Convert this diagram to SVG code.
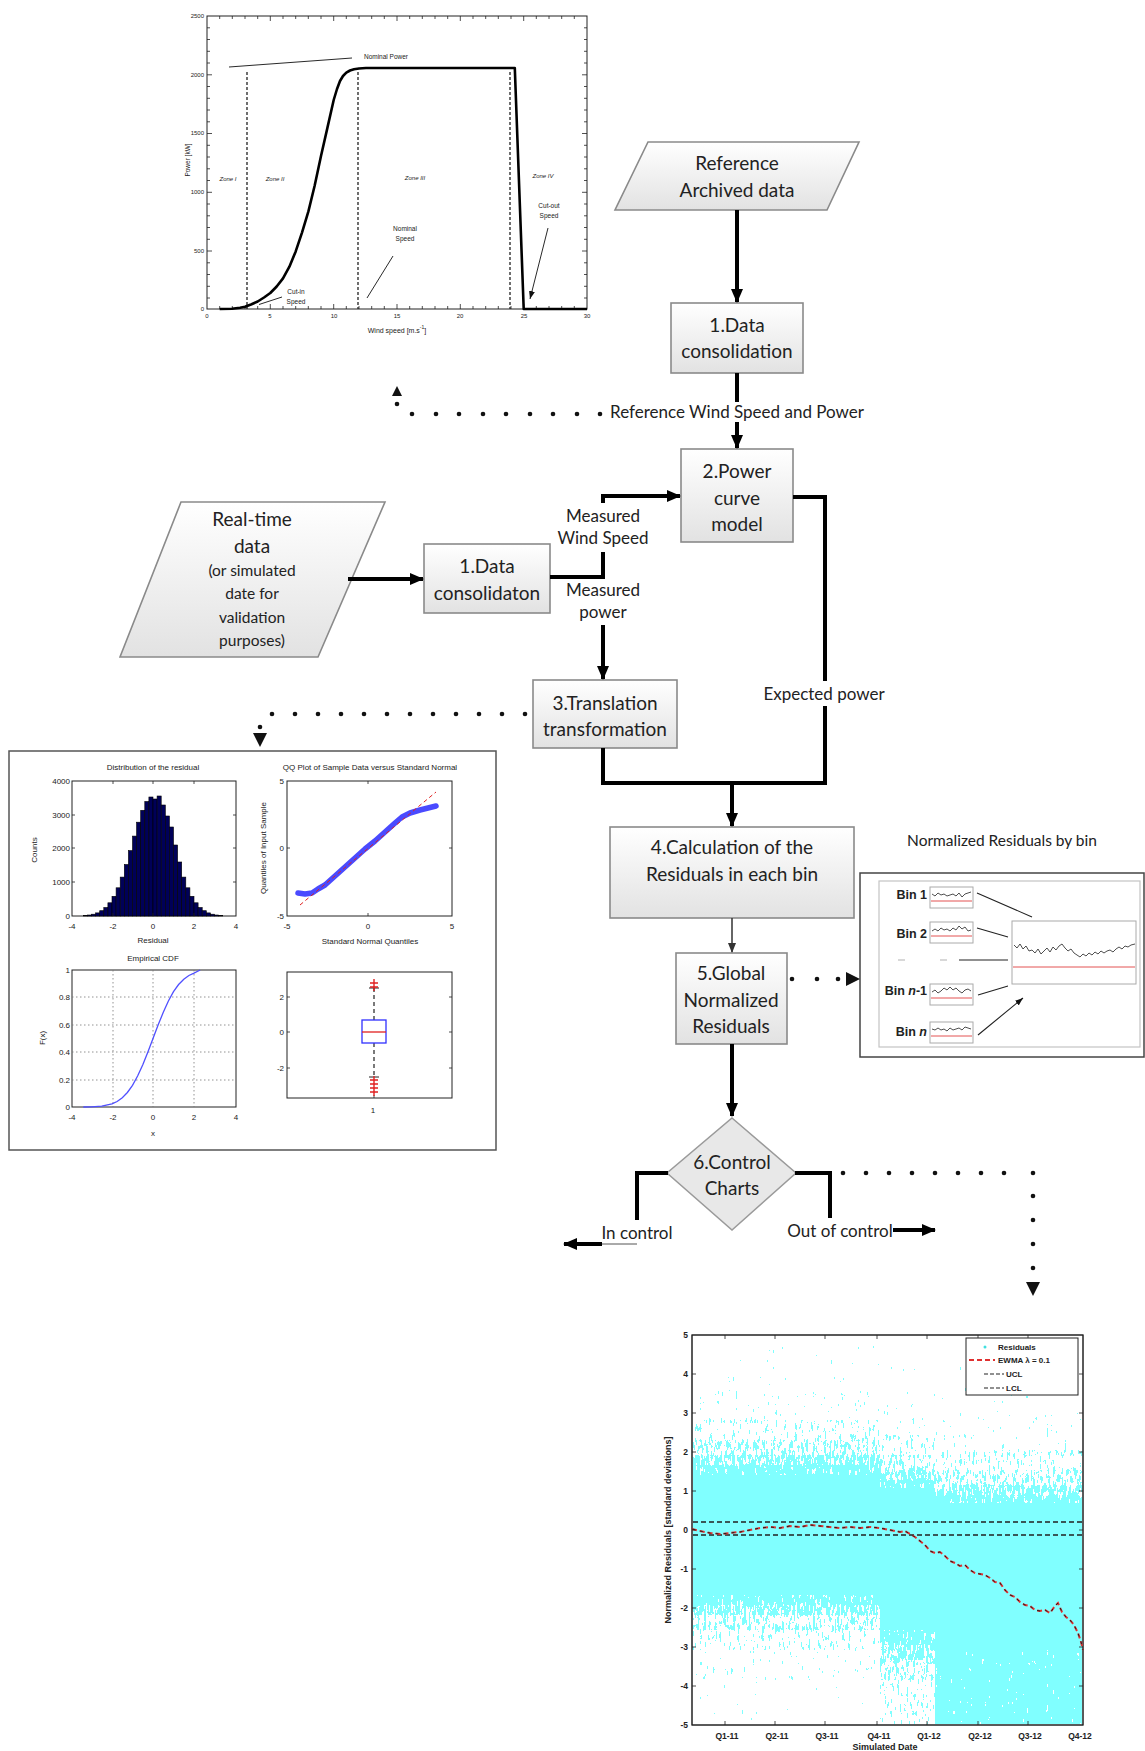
<svg xmlns="http://www.w3.org/2000/svg" width="1145" height="1751" viewBox="0 0 1145 1751">
<style>
.fc{font-family:Lato,"Liberation Sans",sans-serif;fill:#222;text-anchor:middle;dominant-baseline:central}
.f19{font-size:19px}.f17{font-size:17px}.f15{font-size:15.5px}
.box{fill:url(#gbox);stroke:#8a8a8a;stroke-width:1.6}
.sm{font-family:"Liberation Sans",Arial,sans-serif;fill:#222;dominant-baseline:central}
.ax{fill:#fff;stroke:#222;stroke-width:1}
.con{fill:none;stroke:#000;stroke-width:4}
.dot{fill:#111}
.grid{stroke:#777;stroke-width:0.8;stroke-dasharray:1.5 2.5;fill:none}
.tk{stroke:#222;stroke-width:0.8;fill:none}
.cy{fill:#80ffff}
</style>
<defs>
<linearGradient id="gbox" x1="0" y1="0" x2="0" y2="1"><stop offset="0" stop-color="#ffffff"/><stop offset="1" stop-color="#e2e2e2"/></linearGradient>
<marker id="ah" viewBox="0 0 14 12" refX="13" refY="6" markerWidth="14" markerHeight="12" markerUnits="userSpaceOnUse" orient="auto"><path d="M0,0 L14,6 L0,12 Z" fill="#000"/></marker>
<marker id="ahs" viewBox="0 0 10 8" refX="9" refY="4" markerWidth="10" markerHeight="8" markerUnits="userSpaceOnUse" orient="auto"><path d="M0,0 L10,4 L0,8 Z" fill="#333"/></marker>
<marker id="aht" viewBox="0 0 8 6" refX="8" refY="3" markerWidth="8" markerHeight="6" markerUnits="userSpaceOnUse" orient="auto"><path d="M0,0 L8,3 L0,6 Z" fill="#111"/></marker>
<filter id="sp7" x="0" y="0" width="1" height="1" color-interpolation-filters="sRGB"><feTurbulence type="fractalNoise" baseFrequency="0.45 0.12" numOctaves="3" seed="4"/><feColorMatrix type="matrix" values="0 0 0 0 0.5 0 0 0 0 1 0 0 0 0 1 1 0 0 0 0"/><feComponentTransfer><feFuncA type="discrete" tableValues="0 0 0 0 0 0 0 1 1 1 1 1 1 1 1 1 1 1 1 1"/></feComponentTransfer></filter>
<filter id="sp9" x="0" y="0" width="1" height="1" color-interpolation-filters="sRGB"><feTurbulence type="fractalNoise" baseFrequency="0.45 0.12" numOctaves="3" seed="4"/><feColorMatrix type="matrix" values="0 0 0 0 0.5 0 0 0 0 1 0 0 0 0 1 1 0 0 0 0"/><feComponentTransfer><feFuncA type="discrete" tableValues="0 0 0 0 0 0 0 0 0 1 1 1 1 1 1 1 1 1 1 1"/></feComponentTransfer></filter>
<filter id="sp11" x="0" y="0" width="1" height="1" color-interpolation-filters="sRGB"><feTurbulence type="fractalNoise" baseFrequency="0.45 0.12" numOctaves="3" seed="4"/><feColorMatrix type="matrix" values="0 0 0 0 0.5 0 0 0 0 1 0 0 0 0 1 1 0 0 0 0"/><feComponentTransfer><feFuncA type="discrete" tableValues="0 0 0 0 0 0 0 0 0 0 0 1 1 1 1 1 1 1 1 1"/></feComponentTransfer></filter>
<filter id="sp13" x="0" y="0" width="1" height="1" color-interpolation-filters="sRGB"><feTurbulence type="fractalNoise" baseFrequency="0.45 0.12" numOctaves="3" seed="4"/><feColorMatrix type="matrix" values="0 0 0 0 0.5 0 0 0 0 1 0 0 0 0 1 1 0 0 0 0"/><feComponentTransfer><feFuncA type="discrete" tableValues="0 0 0 0 0 0 0 0 0 0 0 0 0 1 1 1 1 1 1 1"/></feComponentTransfer></filter>
<filter id="sp15" x="0" y="0" width="1" height="1" color-interpolation-filters="sRGB"><feTurbulence type="fractalNoise" baseFrequency="0.45 0.12" numOctaves="3" seed="4"/><feColorMatrix type="matrix" values="0 0 0 0 0.5 0 0 0 0 1 0 0 0 0 1 1 0 0 0 0"/><feComponentTransfer><feFuncA type="discrete" tableValues="0 0 0 0 0 0 0 0 0 0 0 0 0 0 0 1 1 1 1 1"/></feComponentTransfer></filter>
<filter id="sp16" x="0" y="0" width="1" height="1" color-interpolation-filters="sRGB"><feTurbulence type="fractalNoise" baseFrequency="0.45 0.12" numOctaves="3" seed="4"/><feColorMatrix type="matrix" values="0 0 0 0 0.5 0 0 0 0 1 0 0 0 0 1 1 0 0 0 0"/><feComponentTransfer><feFuncA type="discrete" tableValues="0 0 0 0 0 0 0 0 0 0 0 0 0 0 0 0 1 1 1 1"/></feComponentTransfer></filter>
<filter id="spW" x="0" y="0" width="1" height="1" color-interpolation-filters="sRGB"><feTurbulence type="fractalNoise" baseFrequency="0.45 0.12" numOctaves="3" seed="21"/><feColorMatrix type="matrix" values="0 0 0 0 1 0 0 0 0 1 0 0 0 0 1 1 0 0 0 0"/><feComponentTransfer><feFuncA type="discrete" tableValues="0 0 0 0 0 0 0 0 0 0 0 0 0 0 0 1 1 1 1 1"/></feComponentTransfer></filter>
</defs>
<rect width="1145" height="1751" fill="#fff"/>

<!-- Power curve plot -->
<g id="power-curve-plot">
<rect class="ax" x="207" y="16" width="380" height="293"/>
<path class="tk" d="M219.7,16v3M232.3,16v3M245,16v3M257.7,16v3M270.3,16v5M283,16v3M295.7,16v3M308.3,16v3M321,16v3M333.7,16v5M346.3,16v3M359,16v3M371.7,16v3M384.3,16v3M397,16v5M409.7,16v3M422.3,16v3M435,16v3M447.7,16v3M460.3,16v5M473,16v3M485.7,16v3M498.3,16v3M511,16v3M523.7,16v5M536.3,16v3M549,16v3M561.7,16v3M574.3,16v3
M219.7,309v-3M232.3,309v-3M245,309v-3M257.7,309v-3M270.3,309v-5M283,309v-3M295.7,309v-3M308.3,309v-3M321,309v-3M333.7,309v-5M346.3,309v-3M359,309v-3M371.7,309v-3M384.3,309v-3M397,309v-5M409.7,309v-3M422.3,309v-3M435,309v-3M447.7,309v-3M460.3,309v-5M473,309v-3M485.7,309v-3M498.3,309v-3M511,309v-3M523.7,309v-5M536.3,309v-3M549,309v-3M561.7,309v-3M574.3,309v-3
M207,27.8h3M207,39.5h3M207,51.3h3M207,63h3M207,74.8h5M207,86.5h3M207,98.3h3M207,110h3M207,121.8h3M207,133.5h5M207,145.3h3M207,157h3M207,168.8h3M207,180.5h3M207,192.3h5M207,204h3M207,215.8h3M207,227.5h3M207,239.3h3M207,251h5M207,262.8h3M207,274.5h3M207,286.3h3M207,298h3
M587,27.8h-3M587,39.5h-3M587,51.3h-3M587,63h-3M587,74.8h-5M587,86.5h-3M587,98.3h-3M587,110h-3M587,121.8h-3M587,133.5h-5M587,145.3h-3M587,157h-3M587,168.8h-3M587,180.5h-3M587,192.3h-5M587,204h-3M587,215.8h-3M587,227.5h-3M587,239.3h-3M587,251h-5M587,262.8h-3M587,274.5h-3M587,286.3h-3M587,298h-3"/>
<g class="sm" font-size="6" text-anchor="end">
<text x="204" y="16">2500</text><text x="204" y="75">2000</text><text x="204" y="133">1500</text><text x="204" y="192">1000</text><text x="204" y="251">500</text><text x="204" y="309">0</text>
</g>
<g class="sm" font-size="6" text-anchor="middle">
<text x="207" y="316">0</text><text x="270" y="316">5</text><text x="334" y="316">10</text><text x="397" y="316">15</text><text x="460" y="316">20</text><text x="524" y="316">25</text><text x="587" y="316">30</text>
<text x="397" y="330" font-size="7">Wind speed [m.s<tspan baseline-shift="super" font-size="5">-1</tspan>]</text>
<text x="0" y="0" transform="translate(187,160) rotate(-90)" font-size="6.5">Power [kW]</text>
</g>
<path d="M247,72V309M358,72V309M510,72V309" stroke="#222" stroke-width="1.3" stroke-dasharray="3 2" fill="none"/>
<polyline fill="none" stroke="#000" stroke-width="2.6" stroke-linejoin="round" points="219.7,309 232,308.8 240,307.8 245,306.8 251,304.5 257.7,301.5 264,297.5 270.3,293 276.7,286.5 283,278.4 289.4,266.7 295.7,251.4 302,232.6 308.4,211.4 314.7,185.5 321,156.1 327.4,127.9 333.7,100 337,89 340,81 343,76 346.3,72.6 350,70.5 354,69.3 359,68.5 366,68 514.8,68 523.7,309 587,309"/>
<g class="sm" font-size="6.5" text-anchor="middle">
<text x="386" y="56">Nominal Power</text>
<text x="296" y="291">Cut-in</text><text x="296" y="301">Speed</text>
<text x="405" y="228">Nominal</text><text x="405" y="238">Speed</text>
<text x="549" y="205">Cut-out</text><text x="549" y="215">Speed</text>
</g>
<g class="sm" font-size="6" font-style="italic" text-anchor="middle">
<text x="228" y="179">Zone I</text><text x="275" y="179">Zone II</text><text x="415" y="178">Zone III</text><text x="543" y="176">Zone IV</text>
</g>
<path d="M352,58L229,67M282,297L259,304.5M393,256L367,298M548,228L530,299" stroke="#111" stroke-width="0.9" fill="none" marker-end="url(#aht)"/>
</g>

<!-- Flowchart nodes -->
<g id="ref-archived-data">
<polygon class="box" points="648,142 859,142 827,210 615,210"/>
<text class="fc f19" x="737" y="162">Reference</text>
<text class="fc f19" x="737" y="189">Archived data</text>
</g>
<g id="data-consolidation-1">
<rect class="box" x="671" y="303" width="132" height="70"/>
<text class="fc f19" x="737" y="324">1.Data</text>
<text class="fc f19" x="737" y="350">consolidation</text>
</g>
<g id="power-curve-model">
<rect class="box" x="681" y="449" width="112" height="93"/>
<text class="fc f19" x="737" y="470">2.Power</text>
<text class="fc f19" x="737" y="497">curve</text>
<text class="fc f19" x="737" y="523">model</text>
</g>
<g id="real-time-data">
<polygon class="box" points="181,502 385,502 318,657 120,657"/>
<text class="fc f19" x="252" y="518">Real-time</text>
<text class="fc f19" x="252" y="545">data</text>
<text class="fc f15" x="252" y="570">(or simulated</text>
<text class="fc f15" x="252" y="593">date for</text>
<text class="fc f15" x="252" y="617">validation</text>
<text class="fc f15" x="252" y="640">purposes)</text>
</g>
<g id="data-consolidation-2">
<rect class="box" x="424" y="544" width="126" height="69"/>
<text class="fc f19" x="487" y="565">1.Data</text>
<text class="fc f19" x="487" y="592">consolidaton</text>
</g>
<g id="translation-transformation">
<rect class="box" x="533" y="680" width="144" height="68"/>
<text class="fc f19" x="605" y="702">3.Translation</text>
<text class="fc f19" x="605" y="728">transformation</text>
</g>
<g id="calculation-residuals">
<rect class="box" x="610" y="827" width="244" height="91"/>
<text class="fc f19" x="732" y="846">4.Calculation of the</text>
<text class="fc f19" x="732" y="873">Residuals in each bin</text>
</g>
<g id="global-normalized-residuals">
<rect class="box" x="676" y="953" width="111" height="91"/>
<text class="fc f19" x="731" y="972">5.Global</text>
<text class="fc f19" x="731" y="999">Normalized</text>
<text class="fc f19" x="731" y="1025">Residuals</text>
</g>
<g id="control-charts">
<polygon points="732,1118 796,1173 732,1230 667,1173" fill="#e8e8e8" stroke="#9a9a9a" stroke-width="1.5"/>
<text class="fc f19" x="732" y="1161">6.Control</text>
<text class="fc f19" x="732" y="1187">Charts</text>
</g>

<!-- Statistics panel -->
<g id="residual-statistics-panel">
<rect x="9" y="751" width="487" height="399" fill="#fff" stroke="#555" stroke-width="1.5"/>
<g class="sm" font-size="8" text-anchor="middle">
<text x="153" y="767">Distribution of the residual</text>
<text x="370" y="767">QQ Plot of Sample Data versus Standard Normal</text>
<text x="153" y="940">Residual</text>
<text x="370" y="941">Standard Normal Quantiles</text>
<text x="153" y="958">Empirical CDF</text>
<text x="153" y="1133">x</text>
<text x="373" y="1110">1</text>
<text transform="translate(34,850) rotate(-90)">Counts</text>
<text transform="translate(263,848) rotate(-90)">Quantiles of Input Sample</text>
<text transform="translate(42,1038) rotate(-90)">F(x)</text>
</g>
<g class="sm" font-size="8" text-anchor="end">
<text x="70" y="781">4000</text><text x="70" y="815">3000</text><text x="70" y="848">2000</text><text x="70" y="882">1000</text><text x="70" y="916">0</text>
<text x="284" y="781">5</text><text x="284" y="848">0</text><text x="284" y="916">-5</text>
<text x="70" y="970">1</text><text x="70" y="997">0.8</text><text x="70" y="1025">0.6</text><text x="70" y="1052">0.4</text><text x="70" y="1080">0.2</text><text x="70" y="1107">0</text>
<text x="284" y="997">2</text><text x="284" y="1032">0</text><text x="284" y="1068">-2</text>
</g>
<g class="sm" font-size="8" text-anchor="middle">
<text x="72" y="926">-4</text><text x="113" y="926">-2</text><text x="153" y="926">0</text><text x="194" y="926">2</text><text x="236" y="926">4</text>
<text x="287" y="926">-5</text><text x="368" y="926">0</text><text x="452" y="926">5</text>
<text x="72" y="1117">-4</text><text x="113" y="1117">-2</text><text x="153" y="1117">0</text><text x="194" y="1117">2</text><text x="236" y="1117">4</text>
</g>
<rect class="ax" x="72" y="781" width="164" height="135"/>
<g fill="#000058" stroke="#000" stroke-width="0.6">
<rect x="83.3" y="915.5" width="4.1" height="0.5"/><rect x="87.4" y="915" width="4.1" height="1"/><rect x="91.5" y="914.2" width="4.1" height="1.8"/><rect x="95.6" y="912.9" width="4.1" height="3.1"/><rect x="99.7" y="910.7" width="4.1" height="5.3"/><rect x="103.8" y="907.5" width="4.1" height="8.5"/><rect x="107.9" y="902.8" width="4.1" height="13.2"/><rect x="112" y="896.3" width="4.1" height="19.7"/><rect x="116.1" y="887.8" width="4.1" height="28.2"/><rect x="120.2" y="877.1" width="4.1" height="38.9"/><rect x="124.3" y="864.5" width="4.1" height="51.5"/><rect x="128.4" y="850.6" width="4.1" height="65.4"/><rect x="132.5" y="836.1" width="4.1" height="79.9"/><rect x="136.6" y="822.2" width="4.1" height="93.8"/><rect x="140.7" y="810.3" width="4.1" height="105.7"/><rect x="144.8" y="801.5" width="4.1" height="114.5"/><rect x="148.9" y="797" width="4.1" height="119"/><rect x="153" y="799" width="4.1" height="117"/><rect x="157.1" y="796" width="4.1" height="120"/><rect x="161.2" y="805" width="4.1" height="111"/><rect x="165.3" y="816" width="4.1" height="100"/><rect x="169.4" y="827" width="4.1" height="89"/><rect x="173.5" y="845" width="4.1" height="71"/><rect x="177.6" y="862" width="4.1" height="54"/><rect x="181.7" y="877.1" width="4.1" height="38.9"/><rect x="185.8" y="887.8" width="4.1" height="28.2"/><rect x="189.9" y="896.3" width="4.1" height="19.7"/><rect x="194" y="902.8" width="4.1" height="13.2"/><rect x="198.1" y="907.5" width="4.1" height="8.5"/><rect x="202.2" y="910.7" width="4.1" height="5.3"/><rect x="206.3" y="912.9" width="4.1" height="3.1"/><rect x="210.4" y="914.2" width="4.1" height="1.8"/><rect x="214.5" y="915" width="4.1" height="1"/><rect x="218.6" y="915.5" width="4.1" height="0.5"/>
</g>
<path class="tk" d="M113,916v-3M153,916v-3M194,916v-3M113,781v3M153,781v3M194,781v3M72,815h3M72,848h3M72,882h3M236,815h-3M236,848h-3M236,882h-3"/>
<rect class="ax" x="287" y="781" width="165" height="135"/>
<path class="tk" d="M368,916v-3M368,781v3M287,848h3M452,848h-3"/>
<polyline fill="none" stroke="#2a2aff" stroke-width="5.5" stroke-linejoin="round" stroke-linecap="round" stroke-opacity="0.85" points="298,893 305,894 312,893 318,889 325,885 335,876 345,867 355,858 365,849 375,841 385,832 395,823 402,817 410,813 420,810 428,808 436,806"/>
<line x1="300" y1="905" x2="436" y2="792" stroke="#e02020" stroke-width="1" stroke-dasharray="4 3"/>
<rect class="ax" x="72" y="970" width="164" height="137"/>
<path class="grid" d="M113,970V1107M153,970V1107M194,970V1107M72,997H236M72,1025H236M72,1052H236M72,1080H236"/>
<polyline fill="none" stroke="#5050ff" stroke-width="1.3" points="83.3,1107 91.5,1106.8 101.8,1106.2 112,1103.9 117.1,1101.5 122.3,1097.8 127.4,1092.5 132.5,1085.3 137.6,1076 142.8,1064.7 147.9,1052 153,1038.5 158.1,1025 163.3,1012.3 168.4,1001 173.5,991.7 178.6,984.5 183.8,979.2 188.9,975.5 194,973.1 200.2,970"/>
<rect class="ax" x="287" y="972" width="165" height="126"/>
<path class="tk" d="M287,997h3M287,1032h3M287,1068h3M452,997h-3M452,1032h-3M452,1068h-3M374,1098v-3"/>
<path d="M374,1020V988M374,1043V1077" stroke="#222" stroke-width="1.2" stroke-dasharray="4 3" fill="none"/>
<path d="M369,988h10M369,1077h10" stroke="#222" stroke-width="1" fill="none"/>
<rect x="362" y="1020" width="24" height="23" fill="#fff" stroke="#3030ff" stroke-width="1.3"/>
<line x1="362" y1="1032" x2="386" y2="1032" stroke="#e02020" stroke-width="1.3"/>
<path d="M370,983h8M374,979v8M370,987h8M374,983v8M370,1080h8M374,1076v8M370,1084h8M374,1080v8M370,1088h8M374,1084v8M370,1092h8M374,1088v8" stroke="#e02020" stroke-width="1.4" fill="none"/>
</g>

<!-- Bins panel -->
<g id="normalized-residuals-by-bin">
<text class="fc f15" x="1002" y="840">Normalized Residuals by bin</text>
<rect x="860" y="873" width="284" height="184" fill="#fff" stroke="#444" stroke-width="1.5"/>
<rect x="879" y="881" width="261" height="166" fill="none" stroke="#c4c4c4" stroke-width="1.2"/>
<g class="sm" font-size="12.5" font-weight="bold" text-anchor="end" fill="#333">
<text x="927" y="895">Bin 1</text>
<text x="927" y="934">Bin 2</text>
<text x="927" y="991">Bin <tspan font-style="italic">n</tspan>-1</text>
<text x="927" y="1032">Bin <tspan font-style="italic">n</tspan></text>
</g>
<path d="M898,960h7M940,960h7" stroke="#ccc" stroke-width="1.5"/>
<g fill="#fff" stroke="#aaa" stroke-width="1">
<rect x="930" y="887" width="43" height="21"/><rect x="930" y="922" width="43" height="21"/><rect x="930" y="984" width="43" height="21"/><rect x="930" y="1022" width="43" height="21"/>
<rect x="1012" y="921" width="124" height="63"/>
</g>
<path d="M931,901h41M931,936h41M931,998h41M931,1036h41M1013,967h122" stroke="#e04040" stroke-width="0.9"/>
<g fill="none" stroke="#222" stroke-width="0.8">
<polyline points="932,894 935,896 938,893 941,895 944,894 947,896 950,895 953,894 956,896 959,893 962,897 965,894 968,893 971,892"/>
<polyline points="932,931 935,929 938,931 941,928 944,930 947,929 950,931 953,928 956,930 959,926 962,929 965,927 968,931 971,930"/>
<polyline points="932,992 935,990 938,993 941,991 944,988 947,990 950,987 953,990 956,988 959,991 962,993 965,990 968,989 971,991"/>
<polyline points="932,1029 935,1030 938,1028 941,1030 944,1029 947,1031 950,1028 953,1030 956,1029 959,1028 962,1030 965,1027 968,1028 971,1029"/>
<polyline points="1014,945 1017,948 1020,944 1023,949 1026,946 1029,951 1032,950 1035,953 1038,949 1041,954 1044,951 1047,948 1050,952 1053,947 1056,950 1059,946 1062,944 1065,948 1068,951 1071,949 1074,953 1077,955 1080,957 1083,954 1086,956 1089,953 1092,955 1095,952 1098,954 1101,951 1104,953 1107,951 1110,950 1113,952 1116,949 1119,947 1122,949 1125,946 1128,947 1131,945 1135,944"/>
</g>
<path d="M977,893L1032,917M977,928L1008,937M959,960L1008,960M978,995L1008,986M978,1035L1023,998" stroke="#222" stroke-width="1.1" fill="none" marker-end="url(#aht)"/>
</g>

<!-- Control chart plot -->
<g id="ewma-control-chart">
<rect class="ax" x="692" y="1335" width="391" height="390"/>
<!-- left column -->
<rect class="cy" x="693" y="1475" width="187" height="120"/>
<rect class="cy" x="693" y="1345" width="187" height="45" filter="url(#sp16)"/>
<rect class="cy" x="693" y="1390" width="187" height="30" filter="url(#sp15)"/>
<rect class="cy" x="693" y="1420" width="187" height="20" filter="url(#sp13)"/>
<rect class="cy" x="693" y="1440" width="187" height="15" filter="url(#sp11)"/>
<rect class="cy" x="693" y="1455" width="187" height="10" filter="url(#sp9)"/>
<rect class="cy" x="693" y="1465" width="187" height="10" filter="url(#sp7)"/>
<rect class="cy" x="693" y="1595" width="187" height="10" filter="url(#sp7)"/>
<rect class="cy" x="693" y="1605" width="187" height="10" filter="url(#sp9)"/>
<rect class="cy" x="693" y="1615" width="187" height="15" filter="url(#sp11)"/>
<rect class="cy" x="693" y="1630" width="187" height="20" filter="url(#sp13)"/>
<rect class="cy" x="693" y="1650" width="187" height="30" filter="url(#sp15)"/>
<rect class="cy" x="693" y="1680" width="187" height="44" filter="url(#sp16)"/>
<!-- middle column -->
<rect class="cy" x="880" y="1488" width="55" height="142"/>
<rect class="cy" x="880" y="1360" width="55" height="45" filter="url(#sp16)"/>
<rect class="cy" x="880" y="1405" width="55" height="30" filter="url(#sp15)"/>
<rect class="cy" x="880" y="1435" width="55" height="20" filter="url(#sp13)"/>
<rect class="cy" x="880" y="1455" width="55" height="15" filter="url(#sp11)"/>
<rect class="cy" x="880" y="1470" width="55" height="10" filter="url(#sp9)"/>
<rect class="cy" x="880" y="1480" width="55" height="8" filter="url(#sp7)"/>
<rect class="cy" x="880" y="1630" width="55" height="15" filter="url(#sp7)"/>
<rect class="cy" x="880" y="1645" width="55" height="15" filter="url(#sp9)"/>
<rect class="cy" x="880" y="1660" width="55" height="20" filter="url(#sp11)"/>
<rect class="cy" x="880" y="1680" width="55" height="44" filter="url(#sp13)"/>
<!-- right column -->
<rect class="cy" x="935" y="1503" width="147" height="221"/>
<rect class="cy" x="935" y="1365" width="147" height="50" filter="url(#sp16)"/>
<rect class="cy" x="935" y="1415" width="147" height="35" filter="url(#sp15)"/>
<rect class="cy" x="935" y="1450" width="147" height="20" filter="url(#sp13)"/>
<rect class="cy" x="935" y="1470" width="147" height="15" filter="url(#sp11)"/>
<rect class="cy" x="935" y="1485" width="147" height="10" filter="url(#sp9)"/>
<rect class="cy" x="935" y="1495" width="147" height="8" filter="url(#sp7)"/>
<rect x="935" y="1650" width="147" height="74" fill="#fff" filter="url(#spW)"/>
<rect x="692" y="1335" width="391" height="390" fill="none" stroke="#222" stroke-width="1"/>
<path d="M693,1522H1082M693,1535H1082" stroke="#222" stroke-width="1.3" stroke-dasharray="5 3" fill="none"/>
<polyline fill="none" stroke="#e03030" stroke-width="2" stroke-dasharray="5 3" points="692,1529 700,1531 710,1533 720,1534 730,1533 740,1532 750,1530 760,1528 770,1527 780,1528 790,1526 800,1527 810,1525 820,1526 830,1527 840,1528 850,1527 860,1528 870,1527 880,1528 890,1530 900,1532 905,1531 910,1534 915,1537 920,1541 925,1545 930,1551 935,1553 940,1552 945,1556 950,1561 955,1563 960,1566 965,1565 970,1570 975,1573 980,1574 985,1575 990,1578 995,1582 1000,1583 1005,1590 1010,1595 1015,1597 1020,1602 1025,1605 1030,1606 1035,1610 1040,1611 1045,1610 1050,1613 1055,1606 1058,1603 1062,1612 1066,1617 1070,1620 1074,1625 1078,1633 1081,1642 1083,1650"/>
<polyline fill="none" stroke="#222" stroke-width="1" stroke-dasharray="3 5" points="692,1529 700,1531 710,1533 720,1534 730,1533 740,1532 750,1530 760,1528 770,1527 780,1528 790,1526 800,1527 810,1525 820,1526 830,1527 840,1528 850,1527 860,1528 870,1527 880,1528 890,1530 900,1532 905,1531 910,1534 915,1537 920,1541 925,1545 930,1551 935,1553 940,1552 945,1556 950,1561 955,1563 960,1566 965,1565 970,1570 975,1573 980,1574 985,1575 990,1578 995,1582 1000,1583 1005,1590 1010,1595 1015,1597 1020,1602 1025,1605 1030,1606 1035,1610 1040,1611 1045,1610 1050,1613 1055,1606 1058,1603 1062,1612 1066,1617 1070,1620 1074,1625 1078,1633 1081,1642 1083,1650"/>
<path class="tk" d="M725,1725v-4M775,1725v-4M825,1725v-4M877,1725v-4M927,1725v-4M978,1725v-4M1028,1725v-4M725,1335v4M775,1335v4M825,1335v4M877,1335v4M927,1335v4M978,1335v4M1028,1335v4M692,1374h4M692,1413h4M692,1452h4M692,1491h4M692,1530h4M692,1569h4M692,1608h4M692,1647h4M692,1686h4M1083,1374h-4M1083,1413h-4M1083,1452h-4M1083,1491h-4M1083,1530h-4M1083,1569h-4M1083,1608h-4M1083,1647h-4M1083,1686h-4"/>
<rect x="966" y="1338" width="112" height="57" fill="#fff" stroke="#222" stroke-width="1"/>
<circle cx="985" cy="1347" r="1.5" fill="#40e0e0"/>
<path d="M969,1360h26" stroke="#e03030" stroke-width="2" stroke-dasharray="5 3"/>
<path d="M984,1374h20M984,1388h20" stroke="#222" stroke-width="1.2" stroke-dasharray="4 2"/>
<g class="sm" font-size="8" font-weight="bold">
<text x="998" y="1347">Residuals</text>
<text x="998" y="1360">EWMA λ = 0.1</text>
<text x="1006" y="1374">UCL</text>
<text x="1006" y="1388">LCL</text>
</g>
<g class="sm" font-size="8.5" font-weight="bold" text-anchor="end">
<text x="688" y="1335">5</text><text x="688" y="1374">4</text><text x="688" y="1413">3</text><text x="688" y="1452">2</text><text x="688" y="1491">1</text><text x="688" y="1530">0</text><text x="688" y="1569">-1</text><text x="688" y="1608">-2</text><text x="688" y="1647">-3</text><text x="688" y="1686">-4</text><text x="688" y="1725">-5</text>
</g>
<g class="sm" font-size="8.5" font-weight="bold" text-anchor="middle">
<text x="727" y="1736">Q1-11</text><text x="777" y="1736">Q2-11</text><text x="827" y="1736">Q3-11</text><text x="879" y="1736">Q4-11</text><text x="929" y="1736">Q1-12</text><text x="980" y="1736">Q2-12</text><text x="1030" y="1736">Q3-12</text><text x="1080" y="1736">Q4-12</text>
<text x="885" y="1747" font-size="9">Simulated Date</text>
<text transform="translate(668,1530) rotate(-90)" font-size="9">Normalized Residuals [standard deviations]</text>
</g>
</g>

<!-- Connectors -->
<g id="connectors">
<path class="con" d="M737,210V302" marker-end="url(#ah)"/>
<path class="con" d="M737,373V402"/>
<text class="fc f17" x="737" y="411">Reference Wind Speed and Power</text>
<path class="con" d="M737,422V448" marker-end="url(#ah)"/>
<path class="con" d="M348,579H423" marker-end="url(#ah)"/>
<path class="con" d="M550,577H603V552"/>
<text class="fc f17" x="603" y="515">Measured</text>
<text class="fc f17" x="603" y="537">Wind Speed</text>
<path class="con" d="M603,503V496H680" marker-end="url(#ah)"/>
<text class="fc f17" x="603" y="589">Measured</text>
<text class="fc f17" x="603" y="611">power</text>
<path class="con" d="M603,625V679" marker-end="url(#ah)"/>
<path class="con" d="M603,748V783H825V706"/>
<text class="fc f17" x="824" y="693">Expected power</text>
<path class="con" d="M825,681V497H793"/>
<path class="con" d="M732,783V826" marker-end="url(#ah)"/>
<path d="M732,918V952" stroke="#333" stroke-width="1.5" fill="none" marker-end="url(#ahs)"/>
<path class="con" d="M732,1044V1116" marker-end="url(#ah)"/>
<path class="con" d="M668,1173H637V1220"/>
<text class="fc f17" x="637" y="1232">In control</text>
<path d="M600,1244H637" stroke="#555" stroke-width="1" fill="none"/>
<path class="con" d="M602,1244H564" marker-end="url(#ah)"/>
<path class="con" d="M795,1173H830V1218"/>
<text class="fc f17" x="840" y="1230">Out of control</text>
<path class="con" d="M893,1230H935" marker-end="url(#ah)"/>
<g class="dot">
<circle cx="600" cy="414" r="2.3"/><circle cx="577" cy="414" r="2.3"/><circle cx="553" cy="414" r="2.3"/><circle cx="530" cy="414" r="2.3"/><circle cx="506" cy="414" r="2.3"/><circle cx="483" cy="414" r="2.3"/><circle cx="459" cy="414" r="2.3"/><circle cx="436" cy="414" r="2.3"/><circle cx="412" cy="414" r="2.3"/><circle cx="397" cy="404" r="2.3"/>
<circle cx="525" cy="714" r="2.3"/><circle cx="502" cy="714" r="2.3"/><circle cx="479" cy="714" r="2.3"/><circle cx="456" cy="714" r="2.3"/><circle cx="433" cy="714" r="2.3"/><circle cx="410" cy="714" r="2.3"/><circle cx="387" cy="714" r="2.3"/><circle cx="364" cy="714" r="2.3"/><circle cx="341" cy="714" r="2.3"/><circle cx="318" cy="714" r="2.3"/><circle cx="295" cy="714" r="2.3"/><circle cx="272" cy="714" r="2.3"/><circle cx="260" cy="727" r="2.3"/>
<circle cx="792" cy="979" r="2.3"/><circle cx="817" cy="979" r="2.3"/><circle cx="838" cy="979" r="2.3"/>
<circle cx="843" cy="1173" r="2.3"/><circle cx="866" cy="1173" r="2.3"/><circle cx="889" cy="1173" r="2.3"/><circle cx="912" cy="1173" r="2.3"/><circle cx="935" cy="1173" r="2.3"/><circle cx="958" cy="1173" r="2.3"/><circle cx="981" cy="1173" r="2.3"/><circle cx="1004" cy="1173" r="2.3"/><circle cx="1033" cy="1173" r="2.3"/><circle cx="1033" cy="1196" r="2.3"/><circle cx="1033" cy="1220" r="2.3"/><circle cx="1033" cy="1244" r="2.3"/><circle cx="1033" cy="1268" r="2.3"/>
<path d="M392,396L397,386L402,396Z"/>
<path d="M253,733L260,747L267,733Z"/>
<path d="M846,972L860,979L846,986Z"/>
<path d="M1026,1282L1033,1296L1040,1282Z"/>
</g>
</g>
</svg>
